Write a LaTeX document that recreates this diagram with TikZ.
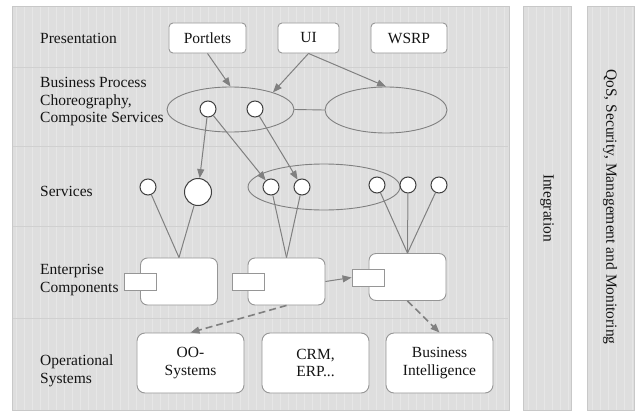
\documentclass[tikz,border=0pt]{standalone}
\usepackage{fontspec}
\setmainfont{Liberation Serif}
\usetikzlibrary{shapes.geometric,arrows.meta}
\definecolor{panelbg}{RGB}{222,222,222}
\definecolor{panelgrid}{RGB}{230,230,230}
\definecolor{panelline}{RGB}{200,200,200}
\definecolor{bandline}{RGB}{208,208,208}
\definecolor{linec}{RGB}{128,128,128}
\definecolor{boxline}{RGB}{150,150,150}
\definecolor{txt}{RGB}{20,20,20}
\begin{document}
\begin{tikzpicture}[x=1pt,y=-1pt,
  font=\fontsize{15.5}{17.5}\selectfont,
  panel/.style={fill=panelbg, draw=panelline, line width=1pt},
  lbl/.style={anchor=west, align=left, inner sep=0, text=txt},
  topbox/.style={draw=boxline, fill=white, rounded corners=4pt, minimum height=30pt, line width=0.9pt, inner sep=0, text=txt},
  botbox/.style={draw=boxline, fill=white, rounded corners=8pt, minimum width=107pt, minimum height=60pt, line width=0.9pt, inner sep=0, align=center, text=txt},
  compbox/.style={draw=boxline, fill=white, rounded corners=7pt, minimum width=77pt, minimum height=47pt, line width=0.9pt, inner sep=0},
  port/.style={draw=boxline, fill=white, minimum width=32pt, minimum height=17pt, line width=0.9pt, inner sep=0},
  oval/.style={ellipse, draw=linec, line width=0.9pt, inner sep=0},
  circ/.style={circle, draw=black!75, fill=white, line width=1pt, minimum size=16pt, inner sep=0},
  conn/.style={draw=linec, line width=1pt},
  arr/.style={conn, -{Triangle[length=9pt,width=7pt]}},
  darr/.style={arr, line width=1.6pt, dash pattern=on 7pt off 4pt}
]
\useasboundingbox (0,0) rectangle (636,412);
\fill[white] (0,0) rectangle (636,412);

% panels
\foreach \xa/\xb in {12/509, 523/571, 587/634}{
  \filldraw[panel] (\xa,7) rectangle (\xb,410);
  \begin{scope}
    \clip (\xa+1,8) rectangle (\xb-1,409);
    \draw[panelgrid, line width=0.35pt, xstep=8, ystep=7.5] (\xa,7) grid (\xb,410);
  \end{scope}
}
% band separators
\foreach \yy in {67,146,226,318}{
  \draw[bandline, line width=0.9pt] (13,\yy) -- (508,\yy);
}

% row labels
\node[lbl] (lpres) at (40,38) {Presentation};
\node[lbl] (lbp) at (40,102) {Business Process\\Choreography,\\Composite Services};
\node[lbl] (lserv) at (40,191) {Services};
\node[lbl] (lent) at (40,280) {Enterprise\\Components};
\node[lbl] (lop) at (40,371) {Operational\\Systems};

% side panel labels
\node[rotate=-90, text=txt, inner sep=0] (integ) at (547,208) {Integration};
\node[rotate=-90, text=txt, inner sep=0] (qos) at (610,207) {QoS, Security, Management and Monitoring};

% presentation boxes
\node[topbox, minimum width=77pt] (portlets) at (207.5,38) {Portlets};
\node[topbox, minimum width=61pt] (ui) at (308.5,38) {UI};
\node[topbox, minimum width=76pt] (wsrp) at (409,38) {WSRP};

% ellipses
\node[oval, minimum width=127pt, minimum height=45pt] (bp) at (230.5,109.5) {};
\node[oval, minimum width=122pt, minimum height=46pt] (re) at (386,110) {};
\draw[conn, line width=0.9pt] (bp.east) -- (re.west);
\node[oval, minimum width=152pt, minimum height=46pt] (sv) at (324,187) {};

% presentation arrows
\draw[arr] (portlets.south) -- (bp.north);
\draw[arr] (ui.south) -- (bp.22);
\draw[arr] (ui.south) -- (re.north);

% choreography circles
\node[circ] (c1) at (208,109) {};
\node[circ] (c2) at (255,109) {};

% services circles
\node[circ] (s1) at (148,187) {};
\node[circ, minimum size=27pt] (s2) at (198,192) {};
\node[circ] (s3) at (271,187) {};
\node[circ] (s4) at (302,187) {};
\node[circ] (s5) at (377,185) {};
\node[circ] (s6) at (408,185) {};
\node[circ] (s7) at (439,185) {};

\draw[arr] (c1) -- (s2);
\draw[arr] (c1) -- (s3);
\draw[arr] (c2) -- (s4);

% enterprise components
\node[compbox] (ec1) at (179,281.5) {};
\node[compbox] (ec2) at (286.5,281.5) {};
\node[compbox] (ec3) at (407.5,277) {};
\node[port] (p1) at (140,281.5) {};
\node[port] (p2) at (248,281.5) {};
\node[port] (p3) at (368,277.5) {};

\draw[conn] (s1) -- (ec1.north);
\draw[conn] (s2) -- (ec1.north);
\draw[conn] (s3) -- (ec2.north);
\draw[conn] (s4) -- (ec2.north);
\draw[conn] (s5) -- (ec3.north);
\draw[conn] (s6) -- (ec3.north);
\draw[conn] (s7) -- (ec3.north);
\draw[arr] (ec2.east) -- (p3.west);

% operational systems
\node[botbox] (oo) at (190.5,363) {OO-\\Systems};
\node[botbox] (crm) at (315.5,363) {CRM,\\ERP...};
\node[botbox] (bi) at (439.5,363) {Business\\Intelligence};

\draw[darr] (ec2.south) -- (oo.north);
\draw[darr] (ec3.south) -- (bi.north);
\end{tikzpicture}
\end{document}
